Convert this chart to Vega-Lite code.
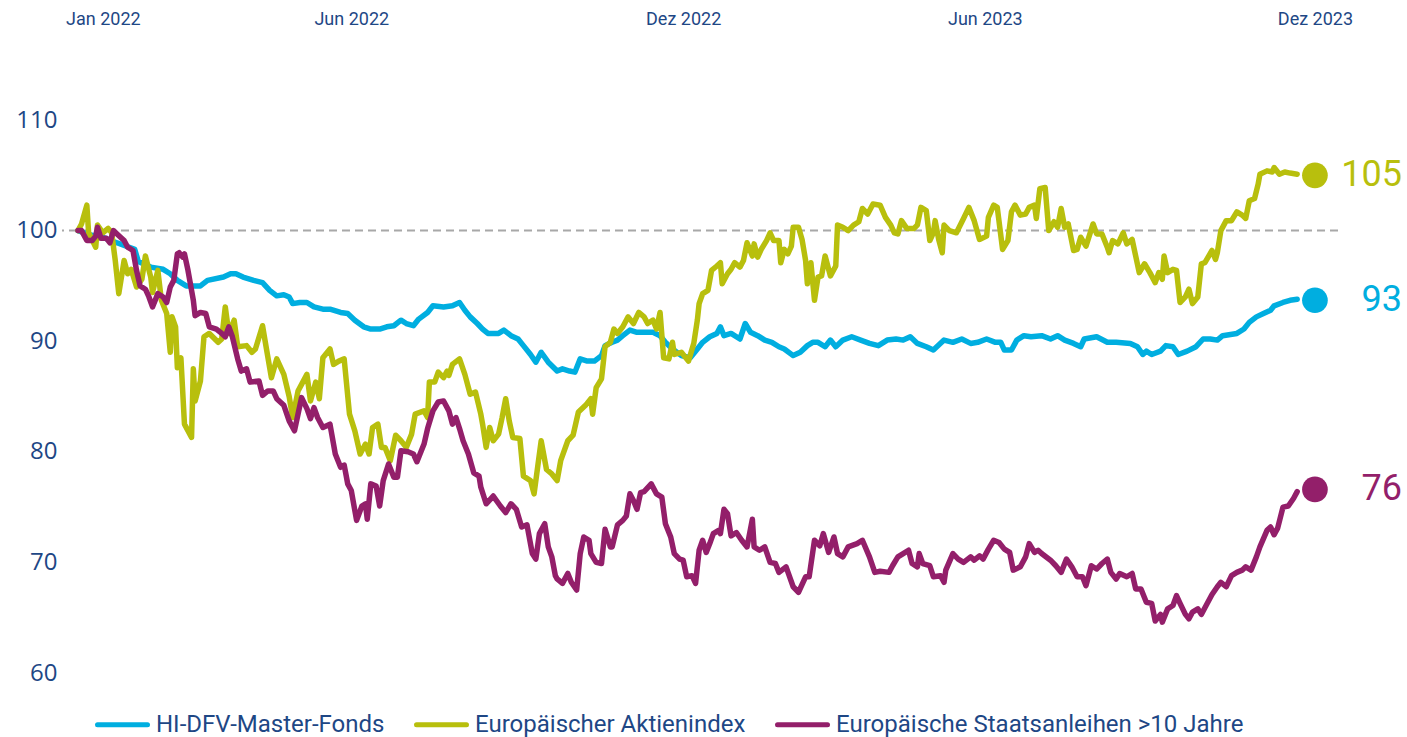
{
"$schema":"https://vega.github.io/schema/vega-lite/v6.json",
"width":1276,"height":553,
"autosize":{"type":"none"},
"padding":{"left":62,"top":120,"right":69,"bottom":64},
"background":"white",
"config":{"view":{"stroke":null},"font":"Roboto"},
"datasets":{
"fonds":[
{"d":"2022-01-03","v":100.0},{"d":"2022-01-10","v":99.6},{"d":"2022-01-17","v":99.4},{"d":"2022-01-23","v":99.0},{"d":"2022-01-25","v":98.9},{"d":"2022-02-04","v":98.3},{"d":"2022-02-06","v":97.2},{"d":"2022-02-13","v":96.7},{"d":"2022-02-20","v":96.5},{"d":"2022-02-24","v":96.1},{"d":"2022-02-28","v":95.5},{"d":"2022-03-05","v":95.0},{"d":"2022-03-13","v":95.0},{"d":"2022-03-17","v":95.5},{"d":"2022-03-26","v":95.8},{"d":"2022-03-30","v":96.1},{"d":"2022-04-02","v":96.1},{"d":"2022-04-06","v":95.8},{"d":"2022-04-12","v":95.5},{"d":"2022-04-17","v":95.3},{"d":"2022-04-21","v":94.6},{"d":"2022-04-25","v":94.1},{"d":"2022-04-29","v":94.2},{"d":"2022-05-02","v":94.0},{"d":"2022-05-04","v":93.4},{"d":"2022-05-08","v":93.5},{"d":"2022-05-12","v":93.5},{"d":"2022-05-16","v":93.1},{"d":"2022-05-21","v":92.9},{"d":"2022-05-25","v":92.9},{"d":"2022-05-31","v":92.6},{"d":"2022-06-04","v":92.5},{"d":"2022-06-08","v":91.9},{"d":"2022-06-13","v":91.3},{"d":"2022-06-17","v":91.1},{"d":"2022-06-22","v":91.1},{"d":"2022-06-26","v":91.3},{"d":"2022-06-30","v":91.4},{"d":"2022-07-04","v":91.9},{"d":"2022-07-07","v":91.6},{"d":"2022-07-11","v":91.4},{"d":"2022-07-14","v":92.0},{"d":"2022-07-19","v":92.6},{"d":"2022-07-22","v":93.2},{"d":"2022-07-28","v":93.1},{"d":"2022-08-02","v":93.2},{"d":"2022-08-06","v":93.5},{"d":"2022-08-09","v":92.8},{"d":"2022-08-12","v":92.2},{"d":"2022-08-16","v":91.6},{"d":"2022-08-19","v":91.1},{"d":"2022-08-22","v":90.7},{"d":"2022-08-28","v":90.7},{"d":"2022-08-31","v":91.0},{"d":"2022-09-04","v":90.5},{"d":"2022-09-08","v":90.2},{"d":"2022-09-11","v":89.6},{"d":"2022-09-15","v":88.8},{"d":"2022-09-18","v":88.1},{"d":"2022-09-21","v":89.0},{"d":"2022-09-25","v":88.1},{"d":"2022-09-30","v":87.3},{"d":"2022-10-03","v":87.5},{"d":"2022-10-07","v":87.3},{"d":"2022-10-10","v":87.2},{"d":"2022-10-13","v":88.4},{"d":"2022-10-17","v":88.2},{"d":"2022-10-21","v":88.2},{"d":"2022-10-25","v":88.7},{"d":"2022-10-27","v":89.6},{"d":"2022-10-31","v":89.9},{"d":"2022-11-03","v":90.1},{"d":"2022-11-06","v":90.5},{"d":"2022-11-10","v":91.0},{"d":"2022-11-14","v":90.8},{"d":"2022-11-18","v":90.8},{"d":"2022-11-23","v":90.8},{"d":"2022-11-27","v":90.5},{"d":"2022-11-30","v":89.9},{"d":"2022-12-04","v":89.3},{"d":"2022-12-09","v":88.7},{"d":"2022-12-14","v":88.5},{"d":"2022-12-18","v":89.3},{"d":"2022-12-21","v":89.9},{"d":"2022-12-25","v":90.4},{"d":"2022-12-29","v":90.7},{"d":"2022-12-31","v":91.3},{"d":"2023-01-02","v":90.5},{"d":"2023-01-06","v":90.7},{"d":"2023-01-11","v":90.2},{"d":"2023-01-14","v":91.6},{"d":"2023-01-17","v":90.8},{"d":"2023-01-21","v":90.5},{"d":"2023-01-25","v":90.1},{"d":"2023-01-29","v":89.9},{"d":"2023-02-02","v":89.5},{"d":"2023-02-05","v":89.3},{"d":"2023-02-10","v":88.7},{"d":"2023-02-14","v":89.0},{"d":"2023-02-18","v":89.6},{"d":"2023-02-21","v":89.9},{"d":"2023-02-24","v":89.9},{"d":"2023-02-28","v":89.5},{"d":"2023-03-03","v":90.1},{"d":"2023-03-06","v":89.5},{"d":"2023-03-10","v":90.1},{"d":"2023-03-15","v":90.4},{"d":"2023-03-20","v":90.1},{"d":"2023-03-25","v":89.8},{"d":"2023-03-30","v":89.6},{"d":"2023-04-04","v":90.1},{"d":"2023-04-09","v":90.2},{"d":"2023-04-13","v":90.1},{"d":"2023-04-17","v":90.4},{"d":"2023-04-21","v":89.8},{"d":"2023-04-26","v":89.5},{"d":"2023-04-30","v":89.2},{"d":"2023-05-06","v":90.1},{"d":"2023-05-11","v":89.9},{"d":"2023-05-16","v":90.2},{"d":"2023-05-21","v":89.8},{"d":"2023-05-25","v":89.9},{"d":"2023-05-30","v":90.2},{"d":"2023-06-04","v":89.9},{"d":"2023-06-07","v":89.9},{"d":"2023-06-09","v":89.2},{"d":"2023-06-13","v":89.2},{"d":"2023-06-16","v":90.1},{"d":"2023-06-20","v":90.5},{"d":"2023-06-24","v":90.4},{"d":"2023-06-30","v":90.5},{"d":"2023-07-05","v":90.2},{"d":"2023-07-09","v":90.5},{"d":"2023-07-13","v":90.1},{"d":"2023-07-18","v":89.8},{"d":"2023-07-22","v":89.5},{"d":"2023-07-24","v":90.2},{"d":"2023-07-31","v":90.4},{"d":"2023-08-06","v":89.9},{"d":"2023-08-11","v":89.9},{"d":"2023-08-19","v":89.8},{"d":"2023-08-23","v":89.5},{"d":"2023-08-26","v":88.8},{"d":"2023-08-28","v":89.1},{"d":"2023-08-31","v":88.8},{"d":"2023-09-05","v":89.1},{"d":"2023-09-08","v":89.6},{"d":"2023-09-12","v":89.5},{"d":"2023-09-15","v":88.8},{"d":"2023-09-20","v":89.1},{"d":"2023-09-25","v":89.5},{"d":"2023-09-29","v":90.2},{"d":"2023-10-03","v":90.2},{"d":"2023-10-07","v":90.1},{"d":"2023-10-10","v":90.5},{"d":"2023-10-18","v":90.7},{"d":"2023-10-22","v":91.1},{"d":"2023-10-25","v":91.7},{"d":"2023-10-29","v":92.2},{"d":"2023-11-02","v":92.5},{"d":"2023-11-06","v":92.8},{"d":"2023-11-08","v":93.2},{"d":"2023-11-13","v":93.5},{"d":"2023-11-17","v":93.7},{"d":"2023-11-21","v":93.8}
],
"aktien":[
{"d":"2022-01-03","v":100.0},{"d":"2022-01-05","v":100.6},{"d":"2022-01-08","v":102.3},{"d":"2022-01-09","v":99.8},{"d":"2022-01-13","v":98.5},{"d":"2022-01-14","v":100.5},{"d":"2022-01-17","v":99.8},{"d":"2022-01-20","v":100.2},{"d":"2022-01-22","v":99.8},{"d":"2022-01-24","v":97.3},{"d":"2022-01-26","v":94.3},{"d":"2022-01-29","v":97.3},{"d":"2022-01-31","v":96.1},{"d":"2022-02-02","v":96.5},{"d":"2022-02-05","v":94.9},{"d":"2022-02-08","v":95.6},{"d":"2022-02-10","v":97.7},{"d":"2022-02-13","v":95.8},{"d":"2022-02-14","v":94.4},{"d":"2022-02-17","v":96.4},{"d":"2022-02-19","v":93.7},{"d":"2022-02-22","v":92.5},{"d":"2022-02-24","v":89.0},{"d":"2022-02-25","v":92.2},{"d":"2022-02-27","v":91.3},{"d":"2022-02-28","v":87.6},{"d":"2022-03-02","v":88.5},{"d":"2022-03-04","v":82.5},{"d":"2022-03-08","v":81.3},{"d":"2022-03-09","v":87.5},{"d":"2022-03-10","v":84.6},{"d":"2022-03-13","v":86.4},{"d":"2022-03-15","v":90.4},{"d":"2022-03-18","v":90.7},{"d":"2022-03-23","v":89.9},{"d":"2022-03-25","v":90.2},{"d":"2022-03-27","v":93.1},{"d":"2022-03-29","v":90.7},{"d":"2022-04-01","v":91.9},{"d":"2022-04-03","v":89.5},{"d":"2022-04-08","v":89.6},{"d":"2022-04-11","v":89.0},{"d":"2022-04-13","v":89.3},{"d":"2022-04-17","v":91.4},{"d":"2022-04-19","v":89.5},{"d":"2022-04-22","v":86.7},{"d":"2022-04-25","v":88.4},{"d":"2022-04-29","v":87.0},{"d":"2022-05-02","v":85.0},{"d":"2022-05-04","v":83.1},{"d":"2022-05-07","v":85.5},{"d":"2022-05-09","v":86.1},{"d":"2022-05-12","v":87.0},{"d":"2022-05-14","v":84.6},{"d":"2022-05-17","v":86.3},{"d":"2022-05-19","v":84.8},{"d":"2022-05-21","v":88.5},{"d":"2022-05-25","v":89.3},{"d":"2022-05-27","v":87.9},{"d":"2022-05-30","v":88.2},{"d":"2022-06-02","v":88.4},{"d":"2022-06-05","v":83.4},{"d":"2022-06-08","v":81.9},{"d":"2022-06-11","v":79.8},{"d":"2022-06-14","v":80.7},{"d":"2022-06-16","v":79.8},{"d":"2022-06-18","v":82.2},{"d":"2022-06-21","v":82.5},{"d":"2022-06-23","v":80.4},{"d":"2022-06-25","v":80.4},{"d":"2022-06-28","v":79.2},{"d":"2022-07-01","v":81.5},{"d":"2022-07-04","v":81.0},{"d":"2022-07-07","v":80.4},{"d":"2022-07-10","v":81.6},{"d":"2022-07-12","v":83.4},{"d":"2022-07-17","v":83.7},{"d":"2022-07-19","v":83.1},{"d":"2022-07-20","v":86.3},{"d":"2022-07-23","v":86.3},{"d":"2022-07-25","v":87.2},{"d":"2022-07-28","v":86.7},{"d":"2022-07-30","v":87.3},{"d":"2022-07-31","v":86.9},{"d":"2022-08-02","v":87.9},{"d":"2022-08-06","v":88.4},{"d":"2022-08-09","v":87.0},{"d":"2022-08-12","v":85.2},{"d":"2022-08-15","v":85.4},{"d":"2022-08-18","v":83.4},{"d":"2022-08-19","v":82.5},{"d":"2022-08-21","v":80.4},{"d":"2022-08-23","v":82.2},{"d":"2022-08-25","v":81.0},{"d":"2022-08-28","v":81.6},{"d":"2022-08-30","v":83.1},{"d":"2022-09-01","v":84.8},{"d":"2022-09-03","v":82.8},{"d":"2022-09-05","v":81.3},{"d":"2022-09-09","v":81.2},{"d":"2022-09-11","v":77.8},{"d":"2022-09-15","v":77.4},{"d":"2022-09-17","v":76.2},{"d":"2022-09-19","v":78.6},{"d":"2022-09-21","v":81.0},{"d":"2022-09-24","v":78.4},{"d":"2022-09-27","v":78.0},{"d":"2022-09-30","v":77.4},{"d":"2022-10-02","v":79.2},{"d":"2022-10-06","v":81.0},{"d":"2022-10-09","v":81.5},{"d":"2022-10-12","v":83.6},{"d":"2022-10-16","v":84.2},{"d":"2022-10-19","v":84.8},{"d":"2022-10-20","v":83.4},{"d":"2022-10-22","v":85.8},{"d":"2022-10-25","v":86.6},{"d":"2022-10-27","v":89.5},{"d":"2022-10-30","v":89.9},{"d":"2022-11-01","v":91.1},{"d":"2022-11-03","v":90.7},{"d":"2022-11-06","v":91.3},{"d":"2022-11-09","v":92.2},{"d":"2022-11-12","v":91.6},{"d":"2022-11-15","v":92.6},{"d":"2022-11-18","v":92.2},{"d":"2022-11-20","v":91.6},{"d":"2022-11-23","v":91.9},{"d":"2022-11-25","v":91.1},{"d":"2022-11-27","v":92.6},{"d":"2022-11-29","v":88.5},{"d":"2022-12-02","v":88.4},{"d":"2022-12-04","v":89.9},{"d":"2022-12-05","v":88.8},{"d":"2022-12-09","v":89.0},{"d":"2022-12-13","v":88.2},{"d":"2022-12-16","v":89.8},{"d":"2022-12-18","v":91.9},{"d":"2022-12-19","v":93.4},{"d":"2022-12-21","v":94.3},{"d":"2022-12-24","v":94.6},{"d":"2022-12-26","v":96.4},{"d":"2022-12-29","v":96.8},{"d":"2022-12-31","v":97.1},{"d":"2023-01-01","v":95.2},{"d":"2023-01-04","v":96.1},{"d":"2023-01-06","v":96.5},{"d":"2023-01-08","v":97.1},{"d":"2023-01-11","v":96.7},{"d":"2023-01-13","v":97.3},{"d":"2023-01-15","v":98.9},{"d":"2023-01-18","v":97.7},{"d":"2023-01-19","v":98.8},{"d":"2023-01-21","v":97.6},{"d":"2023-01-23","v":98.3},{"d":"2023-01-26","v":99.1},{"d":"2023-01-28","v":99.8},{"d":"2023-01-30","v":99.1},{"d":"2023-02-02","v":99.1},{"d":"2023-02-03","v":97.1},{"d":"2023-02-05","v":98.3},{"d":"2023-02-07","v":97.9},{"d":"2023-02-09","v":98.6},{"d":"2023-02-10","v":100.3},{"d":"2023-02-13","v":100.3},{"d":"2023-02-15","v":99.2},{"d":"2023-02-17","v":97.3},{"d":"2023-02-18","v":95.2},{"d":"2023-02-20","v":97.1},{"d":"2023-02-22","v":93.7},{"d":"2023-02-24","v":95.8},{"d":"2023-02-26","v":95.9},{"d":"2023-02-28","v":97.7},{"d":"2023-03-03","v":95.9},{"d":"2023-03-06","v":96.8},{"d":"2023-03-07","v":100.5},{"d":"2023-03-10","v":100.3},{"d":"2023-03-13","v":100.0},{"d":"2023-03-16","v":100.5},{"d":"2023-03-19","v":100.8},{"d":"2023-03-21","v":102.0},{"d":"2023-03-24","v":101.5},{"d":"2023-03-27","v":102.4},{"d":"2023-03-31","v":102.3},{"d":"2023-04-03","v":101.2},{"d":"2023-04-06","v":100.5},{"d":"2023-04-08","v":99.8},{"d":"2023-04-10","v":99.7},{"d":"2023-04-12","v":100.9},{"d":"2023-04-15","v":100.2},{"d":"2023-04-19","v":100.2},{"d":"2023-04-21","v":100.5},{"d":"2023-04-23","v":102.1},{"d":"2023-04-26","v":101.8},{"d":"2023-04-28","v":99.1},{"d":"2023-04-30","v":99.8},{"d":"2023-05-01","v":100.9},{"d":"2023-05-03","v":99.2},{"d":"2023-05-05","v":98.0},{"d":"2023-05-06","v":100.5},{"d":"2023-05-09","v":100.0},{"d":"2023-05-13","v":99.8},{"d":"2023-05-17","v":101.1},{"d":"2023-05-20","v":102.1},{"d":"2023-05-23","v":100.9},{"d":"2023-05-26","v":99.2},{"d":"2023-05-30","v":99.5},{"d":"2023-05-31","v":101.2},{"d":"2023-06-03","v":102.3},{"d":"2023-06-05","v":102.1},{"d":"2023-06-08","v":98.3},{"d":"2023-06-11","v":99.1},{"d":"2023-06-13","v":101.7},{"d":"2023-06-15","v":102.3},{"d":"2023-06-18","v":101.4},{"d":"2023-06-21","v":101.5},{"d":"2023-06-23","v":102.1},{"d":"2023-06-26","v":102.3},{"d":"2023-06-27","v":101.1},{"d":"2023-06-29","v":103.8},{"d":"2023-07-02","v":103.9},{"d":"2023-07-04","v":100.0},{"d":"2023-07-07","v":100.8},{"d":"2023-07-09","v":100.3},{"d":"2023-07-11","v":102.0},{"d":"2023-07-13","v":100.3},{"d":"2023-07-15","v":100.6},{"d":"2023-07-18","v":98.2},{"d":"2023-07-20","v":98.3},{"d":"2023-07-22","v":99.4},{"d":"2023-07-25","v":98.6},{"d":"2023-07-29","v":100.6},{"d":"2023-07-31","v":99.7},{"d":"2023-08-03","v":99.7},{"d":"2023-08-06","v":98.5},{"d":"2023-08-07","v":98.0},{"d":"2023-08-09","v":99.1},{"d":"2023-08-12","v":98.8},{"d":"2023-08-15","v":99.8},{"d":"2023-08-17","v":98.8},{"d":"2023-08-20","v":99.2},{"d":"2023-08-22","v":97.7},{"d":"2023-08-24","v":96.2},{"d":"2023-08-27","v":97.0},{"d":"2023-08-30","v":96.2},{"d":"2023-09-02","v":95.3},{"d":"2023-09-04","v":96.2},{"d":"2023-09-06","v":95.6},{"d":"2023-09-07","v":97.7},{"d":"2023-09-09","v":96.2},{"d":"2023-09-12","v":96.5},{"d":"2023-09-14","v":96.4},{"d":"2023-09-16","v":93.5},{"d":"2023-09-19","v":94.0},{"d":"2023-09-21","v":94.7},{"d":"2023-09-23","v":93.4},{"d":"2023-09-26","v":94.0},{"d":"2023-09-28","v":97.0},{"d":"2023-09-30","v":97.1},{"d":"2023-10-04","v":98.2},{"d":"2023-10-06","v":97.4},{"d":"2023-10-07","v":98.0},{"d":"2023-10-09","v":100.0},{"d":"2023-10-12","v":100.9},{"d":"2023-10-15","v":100.9},{"d":"2023-10-18","v":101.7},{"d":"2023-10-21","v":101.4},{"d":"2023-10-23","v":101.1},{"d":"2023-10-25","v":102.7},{"d":"2023-10-28","v":102.9},{"d":"2023-10-30","v":104.2},{"d":"2023-10-31","v":105.1},{"d":"2023-11-04","v":105.4},{"d":"2023-11-07","v":105.3},{"d":"2023-11-08","v":105.7},{"d":"2023-11-11","v":105.1},{"d":"2023-11-14","v":105.3},{"d":"2023-11-17","v":105.2},{"d":"2023-11-21","v":105.1}
],
"anleihen":[
{"d":"2022-01-03","v":100.0},{"d":"2022-01-05","v":100.0},{"d":"2022-01-08","v":99.1},{"d":"2022-01-11","v":99.1},{"d":"2022-01-13","v":99.5},{"d":"2022-01-14","v":100.3},{"d":"2022-01-16","v":99.3},{"d":"2022-01-19","v":99.3},{"d":"2022-01-21","v":98.9},{"d":"2022-01-23","v":100.0},{"d":"2022-01-25","v":99.7},{"d":"2022-01-29","v":99.1},{"d":"2022-01-31","v":98.5},{"d":"2022-02-03","v":98.2},{"d":"2022-02-05","v":96.4},{"d":"2022-02-07","v":95.0},{"d":"2022-02-10","v":94.7},{"d":"2022-02-12","v":94.0},{"d":"2022-02-14","v":93.1},{"d":"2022-02-17","v":94.3},{"d":"2022-02-20","v":94.0},{"d":"2022-02-22","v":93.5},{"d":"2022-02-24","v":94.9},{"d":"2022-02-26","v":95.5},{"d":"2022-02-28","v":97.9},{"d":"2022-03-01","v":98.0},{"d":"2022-03-03","v":97.6},{"d":"2022-03-04","v":97.9},{"d":"2022-03-06","v":96.4},{"d":"2022-03-09","v":93.7},{"d":"2022-03-10","v":92.3},{"d":"2022-03-13","v":92.6},{"d":"2022-03-16","v":92.5},{"d":"2022-03-18","v":91.3},{"d":"2022-03-22","v":91.1},{"d":"2022-03-25","v":90.7},{"d":"2022-03-27","v":90.4},{"d":"2022-03-29","v":91.3},{"d":"2022-03-31","v":90.4},{"d":"2022-04-03","v":88.4},{"d":"2022-04-05","v":87.3},{"d":"2022-04-08","v":87.5},{"d":"2022-04-10","v":86.3},{"d":"2022-04-15","v":86.4},{"d":"2022-04-17","v":85.1},{"d":"2022-04-20","v":85.5},{"d":"2022-04-23","v":85.5},{"d":"2022-04-25","v":84.8},{"d":"2022-04-29","v":84.2},{"d":"2022-05-02","v":82.8},{"d":"2022-05-05","v":81.9},{"d":"2022-05-07","v":83.4},{"d":"2022-05-09","v":84.9},{"d":"2022-05-12","v":83.9},{"d":"2022-05-14","v":83.0},{"d":"2022-05-16","v":84.0},{"d":"2022-05-18","v":83.1},{"d":"2022-05-21","v":82.2},{"d":"2022-05-25","v":82.5},{"d":"2022-05-28","v":79.8},{"d":"2022-05-31","v":78.6},{"d":"2022-06-02","v":78.8},{"d":"2022-06-04","v":77.1},{"d":"2022-06-06","v":76.5},{"d":"2022-06-09","v":73.8},{"d":"2022-06-12","v":75.1},{"d":"2022-06-14","v":75.3},{"d":"2022-06-15","v":73.9},{"d":"2022-06-17","v":77.1},{"d":"2022-06-20","v":76.9},{"d":"2022-06-22","v":75.1},{"d":"2022-06-24","v":77.4},{"d":"2022-06-27","v":78.9},{"d":"2022-06-30","v":77.7},{"d":"2022-07-02","v":77.7},{"d":"2022-07-04","v":80.1},{"d":"2022-07-08","v":80.0},{"d":"2022-07-11","v":79.8},{"d":"2022-07-13","v":79.1},{"d":"2022-07-17","v":80.7},{"d":"2022-07-19","v":82.1},{"d":"2022-07-22","v":83.7},{"d":"2022-07-25","v":84.5},{"d":"2022-07-28","v":84.6},{"d":"2022-07-31","v":83.7},{"d":"2022-08-02","v":82.5},{"d":"2022-08-04","v":83.1},{"d":"2022-08-06","v":82.1},{"d":"2022-08-08","v":81.0},{"d":"2022-08-11","v":79.8},{"d":"2022-08-14","v":78.1},{"d":"2022-08-17","v":77.8},{"d":"2022-08-18","v":76.8},{"d":"2022-08-21","v":75.3},{"d":"2022-08-25","v":76.0},{"d":"2022-08-29","v":75.1},{"d":"2022-09-01","v":74.5},{"d":"2022-09-04","v":75.3},{"d":"2022-09-07","v":74.8},{"d":"2022-09-10","v":73.2},{"d":"2022-09-13","v":73.4},{"d":"2022-09-16","v":70.8},{"d":"2022-09-18","v":70.3},{"d":"2022-09-20","v":72.6},{"d":"2022-09-23","v":73.5},{"d":"2022-09-25","v":71.4},{"d":"2022-09-27","v":70.5},{"d":"2022-09-29","v":68.8},{"d":"2022-09-30","v":68.5},{"d":"2022-10-03","v":68.1},{"d":"2022-10-06","v":69.0},{"d":"2022-10-08","v":68.2},{"d":"2022-10-11","v":67.5},{"d":"2022-10-13","v":70.8},{"d":"2022-10-15","v":72.3},{"d":"2022-10-18","v":72.0},{"d":"2022-10-19","v":70.8},{"d":"2022-10-22","v":70.0},{"d":"2022-10-25","v":69.9},{"d":"2022-10-27","v":73.0},{"d":"2022-10-30","v":71.4},{"d":"2022-10-31","v":71.4},{"d":"2022-11-03","v":73.4},{"d":"2022-11-06","v":73.8},{"d":"2022-11-08","v":74.2},{"d":"2022-11-10","v":76.2},{"d":"2022-11-12","v":75.6},{"d":"2022-11-14","v":74.8},{"d":"2022-11-16","v":76.3},{"d":"2022-11-18","v":76.4},{"d":"2022-11-22","v":77.1},{"d":"2022-11-25","v":76.2},{"d":"2022-11-28","v":75.9},{"d":"2022-11-30","v":73.5},{"d":"2022-12-03","v":72.3},{"d":"2022-12-05","v":70.8},{"d":"2022-12-08","v":70.3},{"d":"2022-12-10","v":70.2},{"d":"2022-12-12","v":68.7},{"d":"2022-12-15","v":68.8},{"d":"2022-12-17","v":68.1},{"d":"2022-12-19","v":71.1},{"d":"2022-12-21","v":72.0},{"d":"2022-12-23","v":70.9},{"d":"2022-12-25","v":71.7},{"d":"2022-12-27","v":72.6},{"d":"2022-12-30","v":72.9},{"d":"2022-12-31","v":72.6},{"d":"2023-01-02","v":74.8},{"d":"2023-01-04","v":74.4},{"d":"2023-01-06","v":72.4},{"d":"2023-01-09","v":72.7},{"d":"2023-01-12","v":72.0},{"d":"2023-01-15","v":71.4},{"d":"2023-01-18","v":73.9},{"d":"2023-01-19","v":71.4},{"d":"2023-01-22","v":71.1},{"d":"2023-01-25","v":71.4},{"d":"2023-01-28","v":70.0},{"d":"2023-01-31","v":69.9},{"d":"2023-02-02","v":69.1},{"d":"2023-02-06","v":69.6},{"d":"2023-02-10","v":67.8},{"d":"2023-02-13","v":67.3},{"d":"2023-02-17","v":68.7},{"d":"2023-02-19","v":68.7},{"d":"2023-02-22","v":72.0},{"d":"2023-02-25","v":71.5},{"d":"2023-02-27","v":72.6},{"d":"2023-03-02","v":70.9},{"d":"2023-03-05","v":72.3},{"d":"2023-03-07","v":70.8},{"d":"2023-03-10","v":70.5},{"d":"2023-03-13","v":71.4},{"d":"2023-03-18","v":71.7},{"d":"2023-03-21","v":72.0},{"d":"2023-03-25","v":70.5},{"d":"2023-03-28","v":69.1},{"d":"2023-03-31","v":69.2},{"d":"2023-04-05","v":69.1},{"d":"2023-04-07","v":69.7},{"d":"2023-04-10","v":70.5},{"d":"2023-04-13","v":70.8},{"d":"2023-04-16","v":71.1},{"d":"2023-04-18","v":69.9},{"d":"2023-04-21","v":69.6},{"d":"2023-04-22","v":70.8},{"d":"2023-04-24","v":69.9},{"d":"2023-04-28","v":69.7},{"d":"2023-04-30","v":68.7},{"d":"2023-05-04","v":68.8},{"d":"2023-05-06","v":68.2},{"d":"2023-05-07","v":69.3},{"d":"2023-05-11","v":70.8},{"d":"2023-05-14","v":70.3},{"d":"2023-05-17","v":70.0},{"d":"2023-05-21","v":70.5},{"d":"2023-05-23","v":70.2},{"d":"2023-05-26","v":70.6},{"d":"2023-05-28","v":70.3},{"d":"2023-05-31","v":71.2},{"d":"2023-06-03","v":72.0},{"d":"2023-06-06","v":71.8},{"d":"2023-06-09","v":71.2},{"d":"2023-06-12","v":70.9},{"d":"2023-06-14","v":69.3},{"d":"2023-06-18","v":69.6},{"d":"2023-06-21","v":70.5},{"d":"2023-06-23","v":71.7},{"d":"2023-06-26","v":70.9},{"d":"2023-06-28","v":71.1},{"d":"2023-06-30","v":70.8},{"d":"2023-07-05","v":70.2},{"d":"2023-07-08","v":69.7},{"d":"2023-07-11","v":69.1},{"d":"2023-07-14","v":70.3},{"d":"2023-07-17","v":69.6},{"d":"2023-07-20","v":68.7},{"d":"2023-07-23","v":68.7},{"d":"2023-07-25","v":67.9},{"d":"2023-07-28","v":69.7},{"d":"2023-07-31","v":69.4},{"d":"2023-08-03","v":69.9},{"d":"2023-08-06","v":70.3},{"d":"2023-08-08","v":69.1},{"d":"2023-08-11","v":68.5},{"d":"2023-08-13","v":69.0},{"d":"2023-08-17","v":68.7},{"d":"2023-08-20","v":69.0},{"d":"2023-08-22","v":67.6},{"d":"2023-08-25","v":67.6},{"d":"2023-08-28","v":66.4},{"d":"2023-08-31","v":66.3},{"d":"2023-09-02","v":64.7},{"d":"2023-09-05","v":65.3},{"d":"2023-09-06","v":64.6},{"d":"2023-09-09","v":65.8},{"d":"2023-09-12","v":66.1},{"d":"2023-09-14","v":67.0},{"d":"2023-09-16","v":66.3},{"d":"2023-09-19","v":65.3},{"d":"2023-09-21","v":64.9},{"d":"2023-09-23","v":65.5},{"d":"2023-09-26","v":65.8},{"d":"2023-09-28","v":65.3},{"d":"2023-09-30","v":65.9},{"d":"2023-10-04","v":67.1},{"d":"2023-10-07","v":67.8},{"d":"2023-10-09","v":68.2},{"d":"2023-10-12","v":67.8},{"d":"2023-10-15","v":68.8},{"d":"2023-10-18","v":69.1},{"d":"2023-10-21","v":69.3},{"d":"2023-10-23","v":69.6},{"d":"2023-10-26","v":69.3},{"d":"2023-10-29","v":70.5},{"d":"2023-10-31","v":71.4},{"d":"2023-11-04","v":72.9},{"d":"2023-11-06","v":73.2},{"d":"2023-11-08","v":72.5},{"d":"2023-11-10","v":73.1},{"d":"2023-11-13","v":75.0},{"d":"2023-11-16","v":75.1},{"d":"2023-11-19","v":75.8},{"d":"2023-11-21","v":76.4}
],
"ends":[
{"d":"2023-12-01","s":"HI-DFV-Master-Fonds","v":93.7,"t":"93"},
{"d":"2023-12-01","s":"Europäischer Aktienindex","v":105.0,"t":"105"},
{"d":"2023-12-01","s":"Europäische Staatsanleihen >10 Jahre","v":76.6,"t":"76"}
]
},
"layer":[
{
"data":{"values":[{}]},
"mark":{"type":"rule","color":"#a8a8a8","strokeWidth":2,"strokeDash":[8,5]},
"encoding":{"y":{"datum":100,"type":"quantitative","scale":{"domain":[60,110],"nice":false,"zero":false},"axis":{"values":[60,70,80,90,100,110],"domain":false,"ticks":false,"tickSize":0,"grid":false,"labelFont":"Open Sans","labelFontSize":24,"labelColor":"#1e4785","labelPadding":5,"title":null}}}
},
{
"data":{"name":"fonds"},
"mark":{"type":"line","strokeWidth":5.5,"strokeJoin":"round","strokeCap":"round"},
"encoding":{
"x":{"field":"d","type":"temporal","title":null,"scale":{"domain":[{"year":2021,"month":12,"date":25,"utc":true},{"year":2023,"month":12,"date":14,"utc":true}],"nice":false},
"axis":{"orient":"top","values":[{"year":2022,"month":1,"date":17,"utc":true},{"year":2022,"month":6,"date":6,"utc":true},{"year":2022,"month":12,"date":10,"utc":true},{"year":2023,"month":5,"date":29,"utc":true},{"year":2023,"month":12,"date":1,"utc":true}],"labelExpr":"replace(utcFormat(datum.value + 432000000, '%b %Y'), 'Dec', 'Dez')","domain":false,"ticks":false,"tickSize":0,"grid":false,"labelFont":"Roboto","labelFontSize":18,"labelColor":"#1e4785","labelPadding":92,"labelFlush":false,"labelOverlap":false,"title":null}},
"y":{"field":"v","type":"quantitative","title":null},
"color":{"datum":"HI-DFV-Master-Fonds","type":"nominal","scale":{"domain":["HI-DFV-Master-Fonds","Europäischer Aktienindex","Europäische Staatsanleihen >10 Jahre"],"range":["#00aee0","#b8bf0d","#931f6a"]},
"legend":{"title":null,"orient":"none","legendX":33,"legendY":577,"direction":"horizontal","symbolType":"stroke","symbolSize":2500,"symbolStrokeWidth":5,"labelFont":"Roboto","labelFontSize":24,"labelColor":"#1e4785","labelOffset":6,"columnPadding":21,"labelLimit":0,"encode":{"symbols":{"update":{"strokeCap":{"value":"round"}}}}}}
}
},
{
"data":{"name":"aktien"},
"mark":{"type":"line","strokeWidth":5.5,"strokeJoin":"round","strokeCap":"round"},
"encoding":{
"x":{"field":"d","type":"temporal","title":null},
"y":{"field":"v","type":"quantitative","title":null},
"color":{"datum":"Europäischer Aktienindex","type":"nominal"}
}
},
{
"data":{"name":"anleihen"},
"mark":{"type":"line","strokeWidth":5.5,"strokeJoin":"round","strokeCap":"round"},
"encoding":{
"x":{"field":"d","type":"temporal","title":null},
"y":{"field":"v","type":"quantitative","title":null},
"color":{"datum":"Europäische Staatsanleihen >10 Jahre","type":"nominal"}
}
},
{
"data":{"name":"ends"},
"mark":{"type":"point","filled":true,"size":660,"opacity":1,"strokeWidth":0},
"encoding":{
"x":{"field":"d","type":"temporal","title":null},
"y":{"field":"v","type":"quantitative","title":null},
"fill":{"field":"s","type":"nominal","scale":{"domain":["HI-DFV-Master-Fonds","Europäischer Aktienindex","Europäische Staatsanleihen >10 Jahre"],"range":["#00aee0","#b8bf0d","#931f6a"]},"legend":null}
}
},
{
"data":{"name":"ends"},
"mark":{"type":"text","align":"right","baseline":"middle","dx":87,"font":"Roboto","fontSize":36},
"encoding":{
"x":{"field":"d","type":"temporal","title":null},
"y":{"field":"v","type":"quantitative","title":null},
"text":{"field":"t"},
"fill":{"field":"s","type":"nominal","legend":null}
}
}
]
}
